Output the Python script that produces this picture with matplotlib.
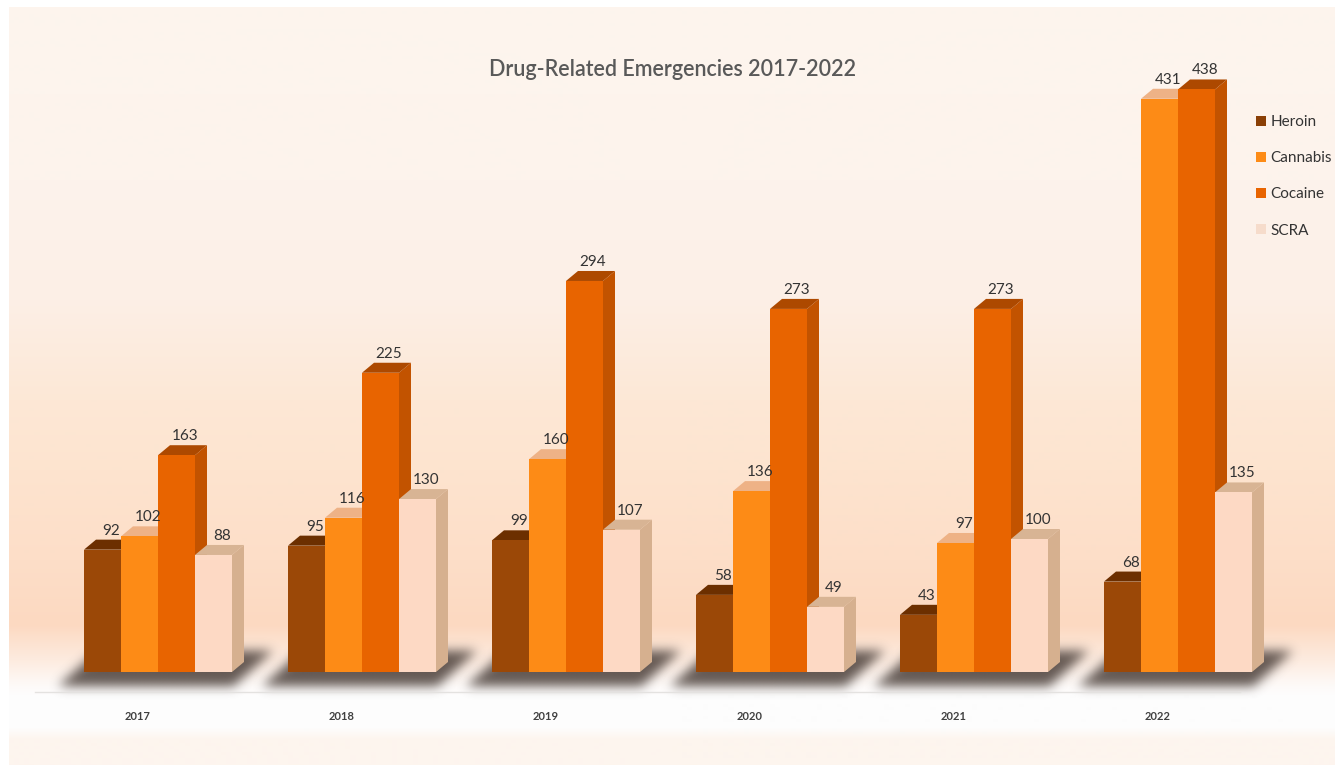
import numpy as np
import matplotlib
matplotlib.use("Agg")
import matplotlib.pyplot as plt
from matplotlib.patches import Polygon, Rectangle
from matplotlib.path import Path
from matplotlib.colors import to_rgb

years = ["2017", "2018", "2019", "2020", "2021", "2022"]
series_names = ["Heroin", "Cannabis", "Cocaine", "SCRA"]
heroin = [92, 95, 99, 58, 43, 68]
cannabis = [102, 116, 160, 136, 97, 431]
cocaine = [163, 225, 294, 273, 273, 438]
scra = [88, 130, 107, 49, 100, 135]
series_values = [heroin, cannabis, cocaine, scra]

front_cols = ["#9b4807", "#fd8b16", "#e86400", "#fdd9c4"]
top_cols = ["#6c2f00", "#eeb286", "#ad4900", "#d8b494"]
side_cols = ["#7a3800", "#d26e10", "#c25300", "#d6b08f"]

plt.rcParams['font.family'] = ['Lato', 'DejaVu Sans']

W, H = 1335, 765
fig = plt.figure(figsize=(W / 100, H / 100), dpi=100)
fig.patch.set_facecolor("white")

# background gradient
bg = fig.add_axes([9 / W, 0, 1 - 9 / W, (H - 7) / H], zorder=0)
stops = [(7, "#fdf5ee"), (180, "#fdf3ec"), (300, "#fcefe6"), (400, "#fde8d6"),
         (470, "#fde4cf"), (560, "#fddec8"), (625, "#fcd9c1"), (660, "#fdebdf"),
         (686, "#fdfaf8"), (695, "#fdfdfd"), (728, "#fdfdfd"), (740, "#fdf5ee"),
         (765, "#fdf5ee")]
py = np.arange(7, 766)
sy = np.array([s[0] for s in stops], float)
cols = np.array([to_rgb(s[1]) for s in stops])
grad = np.stack([np.interp(py, sy, cols[:, k]) for k in range(3)], axis=-1)
bg.imshow(grad[:, None, :], aspect="auto", extent=(0, 1, 0, 1), interpolation="bilinear")
bg.set_axis_off()

# main axes
px_per_unit = 1.33
ylo = -20 / px_per_unit
yhi = 480
ax_h = (yhi - ylo) * px_per_unit
ax = fig.add_axes([35 / W, (H - 692) / H, 1205 / W, ax_h / H], zorder=1)
ax.set_facecolor("none")
xmin, xmax = (35 - 158) / 204, (1240 - 158) / 204

bw = 37 / 204
dx = 12 / 204
dy = 10 / px_per_unit

# shadow mask (pixel space relative to group front-left-bottom corner)
sx_px = np.arange(-50, 215)
sy_px = np.arange(-40, 36)
SX, SY = np.meshgrid(sx_px, sy_px)
para = Path([(-26, 14), (150, 14), (190, -22), (14, -22), (-26, 14)])
inside = para.contains_points(np.c_[SX.ravel(), SY.ravel()]).reshape(SX.shape).astype(float)
def gblur(a, sig):
    r = int(3 * sig)
    k = np.exp(-0.5 * (np.arange(-r, r + 1) / sig) ** 2)
    k /= k.sum()
    a = np.apply_along_axis(lambda m: np.convolve(m, k, mode="same"), 1, a)
    a = np.apply_along_axis(lambda m: np.convolve(m, k, mode="same"), 0, a)
    return a
mask = gblur(inside, 5.5)
shadow_rgba = np.zeros(mask.shape + (4,))
shadow_rgba[..., :3] = to_rgb("#433833")
shadow_rgba[..., 3] = 0.82 * mask
for gi in range(len(years)):
    x0 = gi + (84 - 158 + sx_px[0]) / 204
    x1 = gi + (84 - 158 + sx_px[-1]) / 204
    im = ax.imshow(shadow_rgba, extent=(x0, x1, -sy_px[-1] / px_per_unit, -sy_px[0] / px_per_unit),
                   aspect="auto", origin="upper", zorder=2, interpolation="bilinear")
    im.set_clip_on(False)
ax.set_xlim(xmin, xmax)
ax.set_ylim(ylo, yhi)

z = 3
for gi in range(len(years)):
    for si, vals in enumerate(series_values):
        v = vals[gi]
        xl = gi + (si - 2) * bw
        xr = xl + bw
        side = Polygon([(xr, 0), (xr + dx, dy), (xr + dx, v + dy), (xr, v)],
                       closed=True, facecolor=side_cols[si], edgecolor="none",
                       zorder=z, clip_on=False)
        top = Polygon([(xl, v), (xl + dx, v + dy), (xr + dx, v + dy), (xr, v)],
                      closed=True, facecolor=top_cols[si], edgecolor="none",
                      zorder=z + 1, clip_on=False)
        ax.add_patch(side)
        ax.add_patch(top)
        ax.bar(xl, v, width=bw, align="edge", color=front_cols[si], zorder=z + 2,
               linewidth=0, clip_on=False)
        ax.text(xl + bw / 2 + dx * 0.7, v + dy + 1.5, str(v), ha="center", va="bottom",
                fontsize=11, color="#333333", zorder=50)
        z += 3

# axis styling
for s in ["top", "right", "left"]:
    ax.spines[s].set_visible(False)
ax.spines["bottom"].set_color("#e4e2e0")
ax.spines["bottom"].set_linewidth(1)
ax.set_yticks([])
ax.set_xticks([i - 20 / 204 for i in range(len(years))])
ax.set_xticklabels(years, fontsize=8, color="#404040", fontweight="bold")
ax.tick_params(axis="x", length=0, pad=14)

# title
fig.text(673 / W, 1 - 70 / H, "Drug-Related Emergencies 2017-2022", ha="center",
         va="center", fontsize=15.5, color="#595959", fontweight="semibold")

# legend
leg_cols = ["#8a3f06", "#fd8b16", "#e86400", "#f6dccb"]
handles = [Rectangle((0, 0), 1, 1, facecolor=c, edgecolor="none") for c in leg_cols]
leg = fig.legend(handles, series_names, loc="upper left",
                 bbox_to_anchor=(1250 / W, 1 - 109 / H), frameon=False,
                 fontsize=11, labelspacing=1.45, handlelength=0.65, handleheight=0.65,
                 handletextpad=0.3, borderaxespad=0)
for t in leg.get_texts():
    t.set_color("#333333")

fig.savefig("out.png", dpi=100)
